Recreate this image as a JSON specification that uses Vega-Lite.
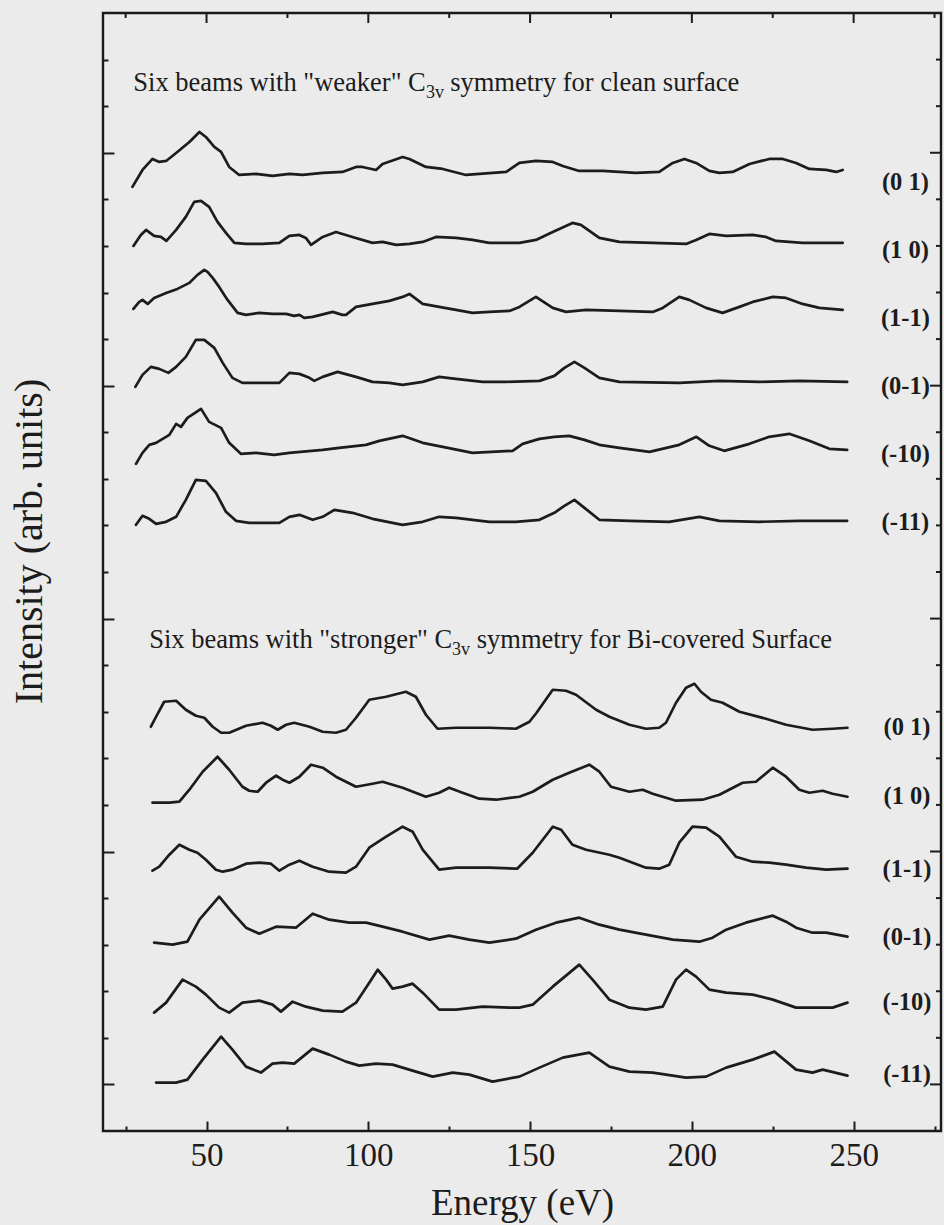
{
  "$schema": "https://vega.github.io/schema/vega-lite/v6.json",
  "width": 838,
  "height": 1118,
  "autosize": {"type": "none"},
  "padding": {"left": 103, "top": 13, "right": 3, "bottom": 94},
  "background": "#ebebeb",
  "config": {
    "view": {"stroke": "#1a1a1a", "strokeWidth": 2.4},
    "font": "Liberation Serif",
    "text": {"font": "Liberation Serif", "color": "#1a1a1a"}
  },
  "datasets": {
    "curves": [
      {"curve":"clean (0 1)","energy":27.1,"intensity":991},{"curve":"clean (0 1)","energy":30.2,"intensity":1008},{"curve":"clean (0 1)","energy":33.3,"intensity":1019},{"curve":"clean (0 1)","energy":35.4,"intensity":1016},{"curve":"clean (0 1)","energy":37.5,"intensity":1017},{"curve":"clean (0 1)","energy":40.6,"intensity":1025},{"curve":"clean (0 1)","energy":44.7,"intensity":1036},{"curve":"clean (0 1)","energy":47.8,"intensity":1046},{"curve":"clean (0 1)","energy":49.8,"intensity":1041},{"curve":"clean (0 1)","energy":52.4,"intensity":1031},{"curve":"clean (0 1)","energy":54.5,"intensity":1026},{"curve":"clean (0 1)","energy":57.0,"intensity":1011},{"curve":"clean (0 1)","energy":60.1,"intensity":1003},{"curve":"clean (0 1)","energy":65.3,"intensity":1004},{"curve":"clean (0 1)","energy":70.4,"intensity":1002},{"curve":"clean (0 1)","energy":75.6,"intensity":1004},{"curve":"clean (0 1)","energy":79.7,"intensity":1003},{"curve":"clean (0 1)","energy":85.9,"intensity":1005},{"curve":"clean (0 1)","energy":92.0,"intensity":1006},{"curve":"clean (0 1)","energy":96.2,"intensity":1011},{"curve":"clean (0 1)","energy":98.2,"intensity":1011},{"curve":"clean (0 1)","energy":102.4,"intensity":1008},{"curve":"clean (0 1)","energy":104.4,"intensity":1014},{"curve":"clean (0 1)","energy":110.6,"intensity":1021},{"curve":"clean (0 1)","energy":112.7,"intensity":1019},{"curve":"clean (0 1)","energy":117.8,"intensity":1011},{"curve":"clean (0 1)","energy":123.0,"intensity":1009},{"curve":"clean (0 1)","energy":130.2,"intensity":1003},{"curve":"clean (0 1)","energy":142.6,"intensity":1006},{"curve":"clean (0 1)","energy":146.7,"intensity":1015},{"curve":"clean (0 1)","energy":151.8,"intensity":1017},{"curve":"clean (0 1)","energy":157.0,"intensity":1016},{"curve":"clean (0 1)","energy":160.1,"intensity":1012},{"curve":"clean (0 1)","energy":165.2,"intensity":1007},{"curve":"clean (0 1)","energy":172.4,"intensity":1007},{"curve":"clean (0 1)","energy":182.7,"intensity":1005},{"curve":"clean (0 1)","energy":189.9,"intensity":1006},{"curve":"clean (0 1)","energy":194.1,"intensity":1015},{"curve":"clean (0 1)","energy":197.7,"intensity":1019},{"curve":"clean (0 1)","energy":201.3,"intensity":1015},{"curve":"clean (0 1)","energy":205.4,"intensity":1007},{"curve":"clean (0 1)","energy":208.5,"intensity":1005},{"curve":"clean (0 1)","energy":212.6,"intensity":1006},{"curve":"clean (0 1)","energy":217.8,"intensity":1014},{"curve":"clean (0 1)","energy":223.9,"intensity":1019},{"curve":"clean (0 1)","energy":228.1,"intensity":1019},{"curve":"clean (0 1)","energy":232.2,"intensity":1015},{"curve":"clean (0 1)","energy":236.3,"intensity":1009},{"curve":"clean (0 1)","energy":241.5,"intensity":1008},{"curve":"clean (0 1)","energy":244.6,"intensity":1006},{"curve":"clean (0 1)","energy":246.6,"intensity":1008},

      {"curve":"clean (1 0)","energy":27.4,"intensity":932},{"curve":"clean (1 0)","energy":29.7,"intensity":943},{"curve":"clean (1 0)","energy":31.3,"intensity":948},{"curve":"clean (1 0)","energy":33.8,"intensity":942},{"curve":"clean (1 0)","energy":35.9,"intensity":941},{"curve":"clean (1 0)","energy":37.6,"intensity":937},{"curve":"clean (1 0)","energy":40.6,"intensity":948},{"curve":"clean (1 0)","energy":43.6,"intensity":961},{"curve":"clean (1 0)","energy":46.2,"intensity":976},{"curve":"clean (1 0)","energy":48.3,"intensity":977},{"curve":"clean (1 0)","energy":50.8,"intensity":971},{"curve":"clean (1 0)","energy":53.4,"intensity":956},{"curve":"clean (1 0)","energy":56.0,"intensity":945},{"curve":"clean (1 0)","energy":58.6,"intensity":935},{"curve":"clean (1 0)","energy":62.2,"intensity":934},{"curve":"clean (1 0)","energy":67.3,"intensity":934},{"curve":"clean (1 0)","energy":72.5,"intensity":935},{"curve":"clean (1 0)","energy":75.6,"intensity":942},{"curve":"clean (1 0)","energy":78.7,"intensity":943},{"curve":"clean (1 0)","energy":80.7,"intensity":940},{"curve":"clean (1 0)","energy":82.3,"intensity":933},{"curve":"clean (1 0)","energy":85.9,"intensity":941},{"curve":"clean (1 0)","energy":90.0,"intensity":946},{"curve":"clean (1 0)","energy":95.1,"intensity":941},{"curve":"clean (1 0)","energy":101.3,"intensity":935},{"curve":"clean (1 0)","energy":104.4,"intensity":936},{"curve":"clean (1 0)","energy":108.6,"intensity":933},{"curve":"clean (1 0)","energy":112.7,"intensity":934},{"curve":"clean (1 0)","energy":116.8,"intensity":936},{"curve":"clean (1 0)","energy":120.9,"intensity":941},{"curve":"clean (1 0)","energy":127.1,"intensity":940},{"curve":"clean (1 0)","energy":132.2,"intensity":938},{"curve":"clean (1 0)","energy":137.4,"intensity":935},{"curve":"clean (1 0)","energy":143.6,"intensity":935},{"curve":"clean (1 0)","energy":146.7,"intensity":935},{"curve":"clean (1 0)","energy":151.8,"intensity":938},{"curve":"clean (1 0)","energy":157.0,"intensity":946},{"curve":"clean (1 0)","energy":163.1,"intensity":955},{"curve":"clean (1 0)","energy":165.7,"intensity":953},{"curve":"clean (1 0)","energy":171.4,"intensity":940},{"curve":"clean (1 0)","energy":177.6,"intensity":936},{"curve":"clean (1 0)","energy":187.9,"intensity":935},{"curve":"clean (1 0)","energy":198.2,"intensity":934},{"curve":"clean (1 0)","energy":201.3,"intensity":938},{"curve":"clean (1 0)","energy":205.4,"intensity":944},{"curve":"clean (1 0)","energy":210.6,"intensity":942},{"curve":"clean (1 0)","energy":218.8,"intensity":943},{"curve":"clean (1 0)","energy":222.9,"intensity":941},{"curve":"clean (1 0)","energy":226.0,"intensity":937},{"curve":"clean (1 0)","energy":234.2,"intensity":935},{"curve":"clean (1 0)","energy":246.6,"intensity":935},

      {"curve":"clean (1-1)","energy":27.4,"intensity":869},{"curve":"clean (1-1)","energy":29.2,"intensity":876},{"curve":"clean (1-1)","energy":30.2,"intensity":878},{"curve":"clean (1-1)","energy":31.8,"intensity":874},{"curve":"clean (1-1)","energy":33.8,"intensity":880},{"curve":"clean (1-1)","energy":37.5,"intensity":885},{"curve":"clean (1-1)","energy":41.0,"intensity":889},{"curve":"clean (1-1)","energy":44.7,"intensity":895},{"curve":"clean (1-1)","energy":47.2,"intensity":903},{"curve":"clean (1-1)","energy":49.3,"intensity":908},{"curve":"clean (1-1)","energy":50.3,"intensity":906},{"curve":"clean (1-1)","energy":51.9,"intensity":900},{"curve":"clean (1-1)","energy":53.9,"intensity":891},{"curve":"clean (1-1)","energy":56.5,"intensity":878},{"curve":"clean (1-1)","energy":59.6,"intensity":865},{"curve":"clean (1-1)","energy":62.2,"intensity":863},{"curve":"clean (1-1)","energy":66.3,"intensity":865},{"curve":"clean (1-1)","energy":70.4,"intensity":864},{"curve":"clean (1-1)","energy":74.6,"intensity":864},{"curve":"clean (1-1)","energy":77.1,"intensity":862},{"curve":"clean (1-1)","energy":78.7,"intensity":863},{"curve":"clean (1-1)","energy":80.2,"intensity":860},{"curve":"clean (1-1)","energy":82.8,"intensity":861},{"curve":"clean (1-1)","energy":89.0,"intensity":866},{"curve":"clean (1-1)","energy":92.0,"intensity":863},{"curve":"clean (1-1)","energy":93.1,"intensity":863},{"curve":"clean (1-1)","energy":96.2,"intensity":871},{"curve":"clean (1-1)","energy":101.3,"intensity":874},{"curve":"clean (1-1)","energy":106.5,"intensity":877},{"curve":"clean (1-1)","energy":110.6,"intensity":881},{"curve":"clean (1-1)","energy":112.7,"intensity":884},{"curve":"clean (1-1)","energy":116.8,"intensity":874},{"curve":"clean (1-1)","energy":121.9,"intensity":871},{"curve":"clean (1-1)","energy":127.1,"intensity":868},{"curve":"clean (1-1)","energy":132.2,"intensity":865},{"curve":"clean (1-1)","energy":137.4,"intensity":866},{"curve":"clean (1-1)","energy":143.6,"intensity":867},{"curve":"clean (1-1)","energy":146.7,"intensity":871},{"curve":"clean (1-1)","energy":151.8,"intensity":881},{"curve":"clean (1-1)","energy":157.0,"intensity":870},{"curve":"clean (1-1)","energy":161.1,"intensity":866},{"curve":"clean (1-1)","energy":167.3,"intensity":868},{"curve":"clean (1-1)","energy":177.6,"intensity":867},{"curve":"clean (1-1)","energy":187.9,"intensity":866},{"curve":"clean (1-1)","energy":191.0,"intensity":870},{"curve":"clean (1-1)","energy":196.1,"intensity":881},{"curve":"clean (1-1)","energy":199.2,"intensity":878},{"curve":"clean (1-1)","energy":204.4,"intensity":870},{"curve":"clean (1-1)","energy":209.5,"intensity":865},{"curve":"clean (1-1)","energy":214.7,"intensity":871},{"curve":"clean (1-1)","energy":218.8,"intensity":876},{"curve":"clean (1-1)","energy":225.0,"intensity":881},{"curve":"clean (1-1)","energy":229.1,"intensity":880},{"curve":"clean (1-1)","energy":234.2,"intensity":874},{"curve":"clean (1-1)","energy":239.4,"intensity":870},{"curve":"clean (1-1)","energy":246.6,"intensity":868},

      {"curve":"clean (0-1)","energy":28.0,"intensity":791},{"curve":"clean (0-1)","energy":30.2,"intensity":803},{"curve":"clean (0-1)","energy":32.8,"intensity":811},{"curve":"clean (0-1)","energy":35.4,"intensity":809},{"curve":"clean (0-1)","energy":38.2,"intensity":805},{"curve":"clean (0-1)","energy":40.6,"intensity":811},{"curve":"clean (0-1)","energy":43.6,"intensity":821},{"curve":"clean (0-1)","energy":46.7,"intensity":838},{"curve":"clean (0-1)","energy":49.3,"intensity":838},{"curve":"clean (0-1)","energy":52.4,"intensity":830},{"curve":"clean (0-1)","energy":55.0,"intensity":815},{"curve":"clean (0-1)","energy":58.0,"intensity":800},{"curve":"clean (0-1)","energy":61.1,"intensity":795},{"curve":"clean (0-1)","energy":67.3,"intensity":795},{"curve":"clean (0-1)","energy":72.5,"intensity":795},{"curve":"clean (0-1)","energy":75.6,"intensity":805},{"curve":"clean (0-1)","energy":78.7,"intensity":804},{"curve":"clean (0-1)","energy":81.8,"intensity":800},{"curve":"clean (0-1)","energy":83.3,"intensity":797},{"curve":"clean (0-1)","energy":85.9,"intensity":801},{"curve":"clean (0-1)","energy":90.5,"intensity":806},{"curve":"clean (0-1)","energy":96.2,"intensity":801},{"curve":"clean (0-1)","energy":101.3,"intensity":796},{"curve":"clean (0-1)","energy":106.5,"intensity":795},{"curve":"clean (0-1)","energy":110.6,"intensity":793},{"curve":"clean (0-1)","energy":116.8,"intensity":796},{"curve":"clean (0-1)","energy":121.9,"intensity":801},{"curve":"clean (0-1)","energy":127.1,"intensity":799},{"curve":"clean (0-1)","energy":135.3,"intensity":796},{"curve":"clean (0-1)","energy":142.6,"intensity":796},{"curve":"clean (0-1)","energy":152.9,"intensity":797},{"curve":"clean (0-1)","energy":157.5,"intensity":802},{"curve":"clean (0-1)","energy":160.6,"intensity":810},{"curve":"clean (0-1)","energy":163.7,"intensity":816},{"curve":"clean (0-1)","energy":166.8,"intensity":810},{"curve":"clean (0-1)","energy":171.4,"intensity":800},{"curve":"clean (0-1)","energy":177.6,"intensity":796},{"curve":"clean (0-1)","energy":196.1,"intensity":795},{"curve":"clean (0-1)","energy":208.5,"intensity":797},{"curve":"clean (0-1)","energy":220.9,"intensity":796},{"curve":"clean (0-1)","energy":233.2,"intensity":797},{"curve":"clean (0-1)","energy":248.0,"intensity":796},

      {"curve":"clean (-10)","energy":28.2,"intensity":714},{"curve":"clean (-10)","energy":30.2,"intensity":725},{"curve":"clean (-10)","energy":32.3,"intensity":733},{"curve":"clean (-10)","energy":34.4,"intensity":735},{"curve":"clean (-10)","energy":38.5,"intensity":743},{"curve":"clean (-10)","energy":40.6,"intensity":754},{"curve":"clean (-10)","energy":42.1,"intensity":751},{"curve":"clean (-10)","energy":44.1,"intensity":760},{"curve":"clean (-10)","energy":48.3,"intensity":769},{"curve":"clean (-10)","energy":50.8,"intensity":756},{"curve":"clean (-10)","energy":54.5,"intensity":750},{"curve":"clean (-10)","energy":57.0,"intensity":735},{"curve":"clean (-10)","energy":60.6,"intensity":724},{"curve":"clean (-10)","energy":65.3,"intensity":725},{"curve":"clean (-10)","energy":70.9,"intensity":723},{"curve":"clean (-10)","energy":75.6,"intensity":725},{"curve":"clean (-10)","energy":85.9,"intensity":728},{"curve":"clean (-10)","energy":91.0,"intensity":730},{"curve":"clean (-10)","energy":99.3,"intensity":733},{"curve":"clean (-10)","energy":103.4,"intensity":737},{"curve":"clean (-10)","energy":110.6,"intensity":742},{"curve":"clean (-10)","energy":116.8,"intensity":735},{"curve":"clean (-10)","energy":123.0,"intensity":731},{"curve":"clean (-10)","energy":132.2,"intensity":725},{"curve":"clean (-10)","energy":144.6,"intensity":727},{"curve":"clean (-10)","energy":147.7,"intensity":734},{"curve":"clean (-10)","energy":152.9,"intensity":739},{"curve":"clean (-10)","energy":157.5,"intensity":741},{"curve":"clean (-10)","energy":162.1,"intensity":742},{"curve":"clean (-10)","energy":166.8,"intensity":738},{"curve":"clean (-10)","energy":171.4,"intensity":733},{"curve":"clean (-10)","energy":177.6,"intensity":730},{"curve":"clean (-10)","energy":186.9,"intensity":726},{"curve":"clean (-10)","energy":196.1,"intensity":733},{"curve":"clean (-10)","energy":201.4,"intensity":741},{"curve":"clean (-10)","energy":205.4,"intensity":732},{"curve":"clean (-10)","energy":210.0,"intensity":727},{"curve":"clean (-10)","energy":217.8,"intensity":734},{"curve":"clean (-10)","energy":223.9,"intensity":741},{"curve":"clean (-10)","energy":230.1,"intensity":744},{"curve":"clean (-10)","energy":236.3,"intensity":737},{"curve":"clean (-10)","energy":242.5,"intensity":729},{"curve":"clean (-10)","energy":248.0,"intensity":728},

      {"curve":"clean (-11)","energy":28.2,"intensity":653},{"curve":"clean (-11)","energy":30.2,"intensity":662},{"curve":"clean (-11)","energy":32.3,"intensity":659},{"curve":"clean (-11)","energy":34.4,"intensity":654},{"curve":"clean (-11)","energy":37.5,"intensity":656},{"curve":"clean (-11)","energy":40.6,"intensity":661},{"curve":"clean (-11)","energy":43.6,"intensity":678},{"curve":"clean (-11)","energy":46.7,"intensity":698},{"curve":"clean (-11)","energy":49.8,"intensity":697},{"curve":"clean (-11)","energy":52.9,"intensity":685},{"curve":"clean (-11)","energy":56.0,"intensity":666},{"curve":"clean (-11)","energy":59.1,"intensity":657},{"curve":"clean (-11)","energy":63.2,"intensity":655},{"curve":"clean (-11)","energy":72.5,"intensity":655},{"curve":"clean (-11)","energy":75.6,"intensity":661},{"curve":"clean (-11)","energy":78.7,"intensity":663},{"curve":"clean (-11)","energy":82.8,"intensity":658},{"curve":"clean (-11)","energy":85.9,"intensity":661},{"curve":"clean (-11)","energy":89.5,"intensity":668},{"curve":"clean (-11)","energy":95.1,"intensity":665},{"curve":"clean (-11)","energy":101.3,"intensity":659},{"curve":"clean (-11)","energy":110.6,"intensity":653},{"curve":"clean (-11)","energy":116.8,"intensity":656},{"curve":"clean (-11)","energy":121.9,"intensity":661},{"curve":"clean (-11)","energy":127.1,"intensity":660},{"curve":"clean (-11)","energy":137.4,"intensity":656},{"curve":"clean (-11)","energy":145.6,"intensity":656},{"curve":"clean (-11)","energy":152.9,"intensity":658},{"curve":"clean (-11)","energy":157.5,"intensity":665},{"curve":"clean (-11)","energy":160.6,"intensity":672},{"curve":"clean (-11)","energy":163.7,"intensity":678},{"curve":"clean (-11)","energy":166.8,"intensity":670},{"curve":"clean (-11)","energy":171.4,"intensity":658},{"curve":"clean (-11)","energy":180.7,"intensity":657},{"curve":"clean (-11)","energy":193.0,"intensity":656},{"curve":"clean (-11)","energy":202.3,"intensity":661},{"curve":"clean (-11)","energy":208.5,"intensity":657},{"curve":"clean (-11)","energy":220.9,"intensity":656},{"curve":"clean (-11)","energy":233.2,"intensity":657},{"curve":"clean (-11)","energy":248.0,"intensity":657},

      {"curve":"Bi (0 1)","energy":32.8,"intensity":451},{"curve":"Bi (0 1)","energy":34.4,"intensity":461},{"curve":"Bi (0 1)","energy":36.9,"intensity":476},{"curve":"Bi (0 1)","energy":40.6,"intensity":477},{"curve":"Bi (0 1)","energy":43.6,"intensity":468},{"curve":"Bi (0 1)","energy":46.7,"intensity":462},{"curve":"Bi (0 1)","energy":49.3,"intensity":460},{"curve":"Bi (0 1)","energy":51.9,"intensity":451},{"curve":"Bi (0 1)","energy":54.5,"intensity":445},{"curve":"Bi (0 1)","energy":57.0,"intensity":445},{"curve":"Bi (0 1)","energy":62.2,"intensity":452},{"curve":"Bi (0 1)","energy":67.3,"intensity":455},{"curve":"Bi (0 1)","energy":69.9,"intensity":452},{"curve":"Bi (0 1)","energy":72.0,"intensity":448},{"curve":"Bi (0 1)","energy":74.6,"intensity":453},{"curve":"Bi (0 1)","energy":77.1,"intensity":455},{"curve":"Bi (0 1)","energy":81.8,"intensity":451},{"curve":"Bi (0 1)","energy":85.9,"intensity":446},{"curve":"Bi (0 1)","energy":90.0,"intensity":445},{"curve":"Bi (0 1)","energy":93.1,"intensity":448},{"curve":"Bi (0 1)","energy":96.2,"intensity":460},{"curve":"Bi (0 1)","energy":100.3,"intensity":478},{"curve":"Bi (0 1)","energy":105.5,"intensity":481},{"curve":"Bi (0 1)","energy":111.6,"intensity":486},{"curve":"Bi (0 1)","energy":114.7,"intensity":481},{"curve":"Bi (0 1)","energy":117.8,"intensity":463},{"curve":"Bi (0 1)","energy":121.4,"intensity":449},{"curve":"Bi (0 1)","energy":127.1,"intensity":450},{"curve":"Bi (0 1)","energy":137.4,"intensity":450},{"curve":"Bi (0 1)","energy":145.6,"intensity":449},{"curve":"Bi (0 1)","energy":149.8,"intensity":456},{"curve":"Bi (0 1)","energy":152.0,"intensity":465},{"curve":"Bi (0 1)","energy":157.0,"intensity":488},{"curve":"Bi (0 1)","energy":161.1,"intensity":487},{"curve":"Bi (0 1)","energy":164.2,"intensity":483},{"curve":"Bi (0 1)","energy":170.4,"intensity":468},{"curve":"Bi (0 1)","energy":174.5,"intensity":461},{"curve":"Bi (0 1)","energy":180.7,"intensity":453},{"curve":"Bi (0 1)","energy":185.8,"intensity":449},{"curve":"Bi (0 1)","energy":189.9,"intensity":450},{"curve":"Bi (0 1)","energy":192.0,"intensity":455},{"curve":"Bi (0 1)","energy":195.1,"intensity":475},{"curve":"Bi (0 1)","energy":198.2,"intensity":490},{"curve":"Bi (0 1)","energy":200.8,"intensity":494},{"curve":"Bi (0 1)","energy":202.8,"intensity":486},{"curve":"Bi (0 1)","energy":205.9,"intensity":478},{"curve":"Bi (0 1)","energy":209.5,"intensity":475},{"curve":"Bi (0 1)","energy":214.7,"intensity":466},{"curve":"Bi (0 1)","energy":222.9,"intensity":459},{"curve":"Bi (0 1)","energy":229.1,"intensity":453},{"curve":"Bi (0 1)","energy":237.3,"intensity":448},{"curve":"Bi (0 1)","energy":243.5,"intensity":449},{"curve":"Bi (0 1)","energy":248.1,"intensity":450},

      {"curve":"Bi (1 0)","energy":33.3,"intensity":375},{"curve":"Bi (1 0)","energy":38.5,"intensity":375},{"curve":"Bi (1 0)","energy":41.6,"intensity":376},{"curve":"Bi (1 0)","energy":44.7,"intensity":388},{"curve":"Bi (1 0)","energy":48.8,"intensity":406},{"curve":"Bi (1 0)","energy":53.4,"intensity":421},{"curve":"Bi (1 0)","energy":57.0,"intensity":408},{"curve":"Bi (1 0)","energy":61.1,"intensity":391},{"curve":"Bi (1 0)","energy":63.2,"intensity":387},{"curve":"Bi (1 0)","energy":65.8,"intensity":386},{"curve":"Bi (1 0)","energy":68.4,"intensity":395},{"curve":"Bi (1 0)","energy":71.5,"intensity":402},{"curve":"Bi (1 0)","energy":73.5,"intensity":398},{"curve":"Bi (1 0)","energy":75.6,"intensity":395},{"curve":"Bi (1 0)","energy":78.7,"intensity":401},{"curve":"Bi (1 0)","energy":82.3,"intensity":413},{"curve":"Bi (1 0)","energy":85.9,"intensity":410},{"curve":"Bi (1 0)","energy":90.0,"intensity":401},{"curve":"Bi (1 0)","energy":96.2,"intensity":391},{"curve":"Bi (1 0)","energy":101.3,"intensity":394},{"curve":"Bi (1 0)","energy":104.4,"intensity":396},{"curve":"Bi (1 0)","energy":110.6,"intensity":390},{"curve":"Bi (1 0)","energy":117.8,"intensity":381},{"curve":"Bi (1 0)","energy":121.9,"intensity":385},{"curve":"Bi (1 0)","energy":125.0,"intensity":390},{"curve":"Bi (1 0)","energy":129.1,"intensity":385},{"curve":"Bi (1 0)","energy":134.3,"intensity":379},{"curve":"Bi (1 0)","energy":139.5,"intensity":378},{"curve":"Bi (1 0)","energy":146.7,"intensity":381},{"curve":"Bi (1 0)","energy":150.8,"intensity":386},{"curve":"Bi (1 0)","energy":157.0,"intensity":398},{"curve":"Bi (1 0)","energy":162.1,"intensity":405},{"curve":"Bi (1 0)","energy":168.3,"intensity":413},{"curve":"Bi (1 0)","energy":171.4,"intensity":406},{"curve":"Bi (1 0)","energy":175.0,"intensity":391},{"curve":"Bi (1 0)","energy":180.7,"intensity":386},{"curve":"Bi (1 0)","energy":184.8,"intensity":388},{"curve":"Bi (1 0)","energy":187.9,"intensity":384},{"curve":"Bi (1 0)","energy":195.1,"intensity":377},{"curve":"Bi (1 0)","energy":203.3,"intensity":378},{"curve":"Bi (1 0)","energy":208.5,"intensity":383},{"curve":"Bi (1 0)","energy":215.7,"intensity":395},{"curve":"Bi (1 0)","energy":219.8,"intensity":396},{"curve":"Bi (1 0)","energy":225.0,"intensity":410},{"curve":"Bi (1 0)","energy":229.1,"intensity":401},{"curve":"Bi (1 0)","energy":233.2,"intensity":388},{"curve":"Bi (1 0)","energy":236.3,"intensity":385},{"curve":"Bi (1 0)","energy":240.4,"intensity":387},{"curve":"Bi (1 0)","energy":243.5,"intensity":384},{"curve":"Bi (1 0)","energy":248.1,"intensity":381},

      {"curve":"Bi (1-1)","energy":33.3,"intensity":307},{"curve":"Bi (1-1)","energy":35.4,"intensity":311},{"curve":"Bi (1-1)","energy":38.5,"intensity":323},{"curve":"Bi (1-1)","energy":41.6,"intensity":333},{"curve":"Bi (1-1)","energy":44.7,"intensity":328},{"curve":"Bi (1-1)","energy":47.2,"intensity":325},{"curve":"Bi (1-1)","energy":49.8,"intensity":318},{"curve":"Bi (1-1)","energy":52.9,"intensity":308},{"curve":"Bi (1-1)","energy":55.0,"intensity":306},{"curve":"Bi (1-1)","energy":58.0,"intensity":308},{"curve":"Bi (1-1)","energy":62.2,"intensity":314},{"curve":"Bi (1-1)","energy":66.3,"intensity":315},{"curve":"Bi (1-1)","energy":69.9,"intensity":314},{"curve":"Bi (1-1)","energy":72.5,"intensity":307},{"curve":"Bi (1-1)","energy":75.6,"intensity":313},{"curve":"Bi (1-1)","energy":78.7,"intensity":317},{"curve":"Bi (1-1)","energy":82.8,"intensity":311},{"curve":"Bi (1-1)","energy":87.9,"intensity":306},{"curve":"Bi (1-1)","energy":93.1,"intensity":305},{"curve":"Bi (1-1)","energy":96.2,"intensity":311},{"curve":"Bi (1-1)","energy":100.3,"intensity":330},{"curve":"Bi (1-1)","energy":105.5,"intensity":341},{"curve":"Bi (1-1)","energy":110.6,"intensity":351},{"curve":"Bi (1-1)","energy":113.7,"intensity":346},{"curve":"Bi (1-1)","energy":116.8,"intensity":328},{"curve":"Bi (1-1)","energy":121.9,"intensity":308},{"curve":"Bi (1-1)","energy":127.1,"intensity":310},{"curve":"Bi (1-1)","energy":137.4,"intensity":310},{"curve":"Bi (1-1)","energy":146.0,"intensity":309},{"curve":"Bi (1-1)","energy":150.8,"intensity":325},{"curve":"Bi (1-1)","energy":157.0,"intensity":351},{"curve":"Bi (1-1)","energy":159.6,"intensity":348},{"curve":"Bi (1-1)","energy":163.1,"intensity":333},{"curve":"Bi (1-1)","energy":167.3,"intensity":328},{"curve":"Bi (1-1)","energy":174.5,"intensity":323},{"curve":"Bi (1-1)","energy":177.6,"intensity":320},{"curve":"Bi (1-1)","energy":185.8,"intensity":310},{"curve":"Bi (1-1)","energy":189.9,"intensity":309},{"curve":"Bi (1-1)","energy":193.0,"intensity":313},{"curve":"Bi (1-1)","energy":196.1,"intensity":335},{"curve":"Bi (1-1)","energy":200.2,"intensity":351},{"curve":"Bi (1-1)","energy":204.4,"intensity":350},{"curve":"Bi (1-1)","energy":208.5,"intensity":341},{"curve":"Bi (1-1)","energy":213.6,"intensity":321},{"curve":"Bi (1-1)","energy":218.8,"intensity":316},{"curve":"Bi (1-1)","energy":223.9,"intensity":315},{"curve":"Bi (1-1)","energy":229.1,"intensity":313},{"curve":"Bi (1-1)","energy":235.3,"intensity":310},{"curve":"Bi (1-1)","energy":241.5,"intensity":308},{"curve":"Bi (1-1)","energy":248.1,"intensity":309},

      {"curve":"Bi (0-1)","energy":33.8,"intensity":235},{"curve":"Bi (0-1)","energy":39.5,"intensity":233},{"curve":"Bi (0-1)","energy":44.1,"intensity":236},{"curve":"Bi (0-1)","energy":47.8,"intensity":258},{"curve":"Bi (0-1)","energy":53.9,"intensity":281},{"curve":"Bi (0-1)","energy":58.0,"intensity":265},{"curve":"Bi (0-1)","energy":62.2,"intensity":250},{"curve":"Bi (0-1)","energy":66.3,"intensity":244},{"curve":"Bi (0-1)","energy":71.5,"intensity":251},{"curve":"Bi (0-1)","energy":77.6,"intensity":250},{"curve":"Bi (0-1)","energy":82.8,"intensity":264},{"curve":"Bi (0-1)","energy":87.9,"intensity":258},{"curve":"Bi (0-1)","energy":94.1,"intensity":255},{"curve":"Bi (0-1)","energy":99.3,"intensity":255},{"curve":"Bi (0-1)","energy":104.4,"intensity":251},{"curve":"Bi (0-1)","energy":110.6,"intensity":246},{"curve":"Bi (0-1)","energy":118.9,"intensity":238},{"curve":"Bi (0-1)","energy":125.0,"intensity":242},{"curve":"Bi (0-1)","energy":131.2,"intensity":238},{"curve":"Bi (0-1)","energy":137.4,"intensity":235},{"curve":"Bi (0-1)","energy":145.6,"intensity":239},{"curve":"Bi (0-1)","energy":151.8,"intensity":248},{"curve":"Bi (0-1)","energy":158.0,"intensity":255},{"curve":"Bi (0-1)","energy":165.2,"intensity":260},{"curve":"Bi (0-1)","energy":171.4,"intensity":253},{"curve":"Bi (0-1)","energy":177.6,"intensity":248},{"curve":"Bi (0-1)","energy":185.8,"intensity":243},{"curve":"Bi (0-1)","energy":194.1,"intensity":238},{"curve":"Bi (0-1)","energy":202.3,"intensity":236},{"curve":"Bi (0-1)","energy":206.4,"intensity":240},{"curve":"Bi (0-1)","energy":210.6,"intensity":248},{"curve":"Bi (0-1)","energy":216.7,"intensity":255},{"curve":"Bi (0-1)","energy":225.0,"intensity":262},{"curve":"Bi (0-1)","energy":229.1,"intensity":256},{"curve":"Bi (0-1)","energy":232.2,"intensity":250},{"curve":"Bi (0-1)","energy":237.3,"intensity":245},{"curve":"Bi (0-1)","energy":241.5,"intensity":245},{"curve":"Bi (0-1)","energy":248.1,"intensity":241},

      {"curve":"Bi (-10)","energy":33.8,"intensity":165},{"curve":"Bi (-10)","energy":37.5,"intensity":175},{"curve":"Bi (-10)","energy":42.6,"intensity":198},{"curve":"Bi (-10)","energy":46.7,"intensity":191},{"curve":"Bi (-10)","energy":49.8,"intensity":183},{"curve":"Bi (-10)","energy":53.9,"intensity":170},{"curve":"Bi (-10)","energy":57.0,"intensity":165},{"curve":"Bi (-10)","energy":61.1,"intensity":175},{"curve":"Bi (-10)","energy":66.3,"intensity":177},{"curve":"Bi (-10)","energy":70.4,"intensity":173},{"curve":"Bi (-10)","energy":73.0,"intensity":166},{"curve":"Bi (-10)","energy":76.6,"intensity":176},{"curve":"Bi (-10)","energy":80.7,"intensity":171},{"curve":"Bi (-10)","energy":85.9,"intensity":167},{"curve":"Bi (-10)","energy":92.0,"intensity":166},{"curve":"Bi (-10)","energy":96.2,"intensity":175},{"curve":"Bi (-10)","energy":100.3,"intensity":195},{"curve":"Bi (-10)","energy":102.9,"intensity":208},{"curve":"Bi (-10)","energy":105.5,"intensity":198},{"curve":"Bi (-10)","energy":107.5,"intensity":189},{"curve":"Bi (-10)","energy":110.6,"intensity":191},{"curve":"Bi (-10)","energy":113.7,"intensity":194},{"curve":"Bi (-10)","energy":116.8,"intensity":185},{"curve":"Bi (-10)","energy":121.9,"intensity":168},{"curve":"Bi (-10)","energy":127.1,"intensity":168},{"curve":"Bi (-10)","energy":135.3,"intensity":171},{"curve":"Bi (-10)","energy":143.6,"intensity":170},{"curve":"Bi (-10)","energy":146.7,"intensity":170},{"curve":"Bi (-10)","energy":150.8,"intensity":173},{"curve":"Bi (-10)","energy":157.0,"intensity":191},{"curve":"Bi (-10)","energy":165.2,"intensity":213},{"curve":"Bi (-10)","energy":169.3,"intensity":198},{"curve":"Bi (-10)","energy":174.5,"intensity":178},{"curve":"Bi (-10)","energy":180.7,"intensity":170},{"curve":"Bi (-10)","energy":185.8,"intensity":168},{"curve":"Bi (-10)","energy":191.0,"intensity":171},{"curve":"Bi (-10)","energy":195.1,"intensity":198},{"curve":"Bi (-10)","energy":198.2,"intensity":208},{"curve":"Bi (-10)","energy":201.3,"intensity":201},{"curve":"Bi (-10)","energy":205.4,"intensity":188},{"curve":"Bi (-10)","energy":210.6,"intensity":185},{"curve":"Bi (-10)","energy":218.8,"intensity":183},{"curve":"Bi (-10)","energy":225.0,"intensity":178},{"curve":"Bi (-10)","energy":232.2,"intensity":170},{"curve":"Bi (-10)","energy":243.5,"intensity":170},{"curve":"Bi (-10)","energy":248.1,"intensity":175},

      {"curve":"Bi (-11)","energy":34.4,"intensity":95},{"curve":"Bi (-11)","energy":40.6,"intensity":95},{"curve":"Bi (-11)","energy":44.1,"intensity":98},{"curve":"Bi (-11)","energy":48.8,"intensity":118},{"curve":"Bi (-11)","energy":54.5,"intensity":141},{"curve":"Bi (-11)","energy":58.0,"intensity":128},{"curve":"Bi (-11)","energy":62.2,"intensity":111},{"curve":"Bi (-11)","energy":66.8,"intensity":105},{"curve":"Bi (-11)","energy":70.4,"intensity":114},{"curve":"Bi (-11)","energy":73.5,"intensity":115},{"curve":"Bi (-11)","energy":77.1,"intensity":114},{"curve":"Bi (-11)","energy":82.8,"intensity":129},{"curve":"Bi (-11)","energy":87.9,"intensity":123},{"curve":"Bi (-11)","energy":93.1,"intensity":116},{"curve":"Bi (-11)","energy":97.2,"intensity":112},{"curve":"Bi (-11)","energy":102.4,"intensity":114},{"curve":"Bi (-11)","energy":107.5,"intensity":113},{"curve":"Bi (-11)","energy":114.7,"intensity":106},{"curve":"Bi (-11)","energy":119.9,"intensity":101},{"curve":"Bi (-11)","energy":126.1,"intensity":105},{"curve":"Bi (-11)","energy":131.2,"intensity":103},{"curve":"Bi (-11)","energy":138.4,"intensity":96},{"curve":"Bi (-11)","energy":146.7,"intensity":101},{"curve":"Bi (-11)","energy":152.9,"intensity":110},{"curve":"Bi (-11)","energy":160.1,"intensity":120},{"curve":"Bi (-11)","energy":168.3,"intensity":125},{"curve":"Bi (-11)","energy":174.5,"intensity":111},{"curve":"Bi (-11)","energy":180.7,"intensity":106},{"curve":"Bi (-11)","energy":187.9,"intensity":105},{"curve":"Bi (-11)","energy":198.2,"intensity":100},{"curve":"Bi (-11)","energy":204.4,"intensity":101},{"curve":"Bi (-11)","energy":210.6,"intensity":110},{"curve":"Bi (-11)","energy":218.8,"intensity":118},{"curve":"Bi (-11)","energy":225.5,"intensity":126},{"curve":"Bi (-11)","energy":232.2,"intensity":108},{"curve":"Bi (-11)","energy":237.3,"intensity":105},{"curve":"Bi (-11)","energy":240.4,"intensity":108},{"curve":"Bi (-11)","energy":248.1,"intensity":102}
    ],
    "beams": [
      {"label":"(0 1)","energy":266,"intensity":995},
      {"label":"(1 0)","energy":266,"intensity":927},
      {"label":"(1-1)","energy":266,"intensity":859},
      {"label":"(0-1)","energy":266,"intensity":791},
      {"label":"(-10)","energy":266,"intensity":723},
      {"label":"(-11)","energy":266,"intensity":655},
      {"label":"(0 1)","energy":266.5,"intensity":450},
      {"label":"(1 0)","energy":266.5,"intensity":381},
      {"label":"(1-1)","energy":266.5,"intensity":308},
      {"label":"(0-1)","energy":266.5,"intensity":240},
      {"label":"(-10)","energy":266.5,"intensity":175},
      {"label":"(-11)","energy":266.5,"intensity":103}
    ],
    "titles": [
      {"text":"Six beams with \"weaker\" C","energy":27.36,"intensity":1087},
      {"text":"symmetry for clean surface","energy":125.3,"intensity":1087},
      {"text":"Six beams with \"stronger\" C","energy":32.3,"intensity":530},
      {"text":"symmetry for Bi-covered Surface","energy":133.5,"intensity":530}
    ],
    "subscripts": [
      {"text":"3v","energy":117.8,"intensity":1087},
      {"text":"3v","energy":125.9,"intensity":530}
    ],
    "energyTicks": [
      {"energy":25},{"energy":50},{"energy":75},{"energy":100},{"energy":125},{"energy":150},{"energy":175},{"energy":200},{"energy":225},{"energy":250},{"energy":275}
    ],
    "intensityTicks": [
      {"intensity":93.2},{"intensity":139.8},{"intensity":186.4},{"intensity":233},{"intensity":279.6},{"intensity":326.2},{"intensity":372.8},{"intensity":419.4},{"intensity":466},{"intensity":512.6},{"intensity":559.2},{"intensity":605.8},{"intensity":652.4},{"intensity":699},{"intensity":745.6},{"intensity":792.2},{"intensity":838.8},{"intensity":885.4},{"intensity":932},{"intensity":978.6},{"intensity":1025.2},{"intensity":1071.8},{"intensity":1118.4}
    ]
  },
  "layer": [
    {
      "data": {"name": "curves"},
      "mark": {"type": "line", "color": "#1c1c1c", "strokeWidth": 2.7, "strokeJoin": "round", "strokeCap": "round", "interpolate": "linear"},
      "encoding": {
        "x": {
          "field": "energy", "type": "quantitative",
          "scale": {"domain": [18, 277], "nice": false, "zero": false},
          "axis": {
            "orient": "bottom",
            "values": [25, 50, 75, 100, 125, 150, 175, 200, 225, 250, 275],
            "labelExpr": "datum.value % 50 === 0 ? datum.label : ''",
            "domain": false, "grid": false,
            "tickColor": "#1c1c1c", "tickWidth": 2,
            "tickSize": {"condition": {"test": "datum.value % 50 === 0", "value": -10}, "value": -5},
            "labelFont": "Liberation Serif", "labelFontSize": 33, "labelColor": "#1c1c1c",
            "labelPadding": 18, "labelOverlap": false, "labelFlush": false,
            "title": "Energy (eV)", "titleFont": "Liberation Serif", "titleFontSize": 37,
            "titleFontWeight": "normal", "titleColor": "#1c1c1c", "titlePadding": 8
          }
        },
        "y": {
          "field": "intensity", "type": "quantitative",
          "scale": {"domain": [46.6, 1165], "nice": false, "zero": false},
          "axis": {
            "orient": "left",
            "values": [93.2, 139.8, 186.4, 233, 279.6, 326.2, 372.8, 419.4, 466, 512.6, 559.2, 605.8, 652.4, 699, 745.6, 792.2, 838.8, 885.4, 932, 978.6, 1025.2, 1071.8, 1118.4],
            "labels": false, "domain": false, "grid": false,
            "tickColor": "#1c1c1c", "tickWidth": 2,
            "tickSize": {"condition": {"test": "indexof([93.2, 326.2, 559.2, 792.2, 1025.2], datum.value) >= 0", "value": -11}, "value": -5},
            "title": "Intensity (arb. units)", "titleFont": "Liberation Serif", "titleFontSize": 40,
            "titleFontWeight": "normal", "titleColor": "#1c1c1c",
            "titleAngle": 270, "titleBaseline": "middle", "titleAlign": "center",
            "titleX": -74, "titleY": 528
          }
        },
        "detail": {"field": "curve", "type": "nominal"}
      }
    },
    {
      "data": {"name": "energyTicks"},
      "mark": {"type": "tick", "orient": "vertical", "color": "#1c1c1c", "thickness": 2, "clip": true, "opacity": 1},
      "encoding": {
        "x": {"field": "energy", "type": "quantitative", "scale": {"domain": [18, 277], "nice": false, "zero": false}, "axis": null},
        "y": {"datum": 1165, "type": "quantitative", "scale": {"domain": [46.6, 1165], "nice": false, "zero": false}, "axis": null},
        "size": {"condition": {"test": "datum.energy % 50 === 0", "value": 20}, "value": 10}
      }
    },
    {
      "data": {"name": "intensityTicks"},
      "mark": {"type": "tick", "orient": "horizontal", "color": "#1c1c1c", "thickness": 2, "clip": true, "opacity": 1},
      "encoding": {
        "x": {"datum": 277, "type": "quantitative", "scale": {"domain": [18, 277], "nice": false, "zero": false}, "axis": null},
        "y": {"field": "intensity", "type": "quantitative", "scale": {"domain": [46.6, 1165], "nice": false, "zero": false}, "axis": null},
        "size": {"condition": {"test": "indexof([93.2, 326.2, 559.2, 792.2, 1025.2], datum.intensity) >= 0", "value": 22}, "value": 10}
      }
    },
    {
      "data": {"name": "beams"},
      "mark": {"type": "text", "font": "Liberation Serif", "fontSize": 24.5, "fontWeight": "bold", "align": "center", "baseline": "middle", "color": "#1c1c1c"},
      "encoding": {
        "x": {"field": "energy", "type": "quantitative", "scale": {"domain": [18, 277], "nice": false, "zero": false}, "axis": null},
        "y": {"field": "intensity", "type": "quantitative", "scale": {"domain": [46.6, 1165], "nice": false, "zero": false}, "axis": null},
        "text": {"field": "label", "type": "nominal"}
      }
    },
    {
      "data": {"name": "titles"},
      "mark": {"type": "text", "font": "Liberation Serif", "fontSize": 26.5, "align": "left", "baseline": "alphabetic", "color": "#1c1c1c"},
      "encoding": {
        "x": {"field": "energy", "type": "quantitative", "scale": {"domain": [18, 277], "nice": false, "zero": false}, "axis": null},
        "y": {"field": "intensity", "type": "quantitative", "scale": {"domain": [46.6, 1165], "nice": false, "zero": false}, "axis": null},
        "text": {"field": "text", "type": "nominal"}
      }
    },
    {
      "data": {"name": "subscripts"},
      "mark": {"type": "text", "font": "Liberation Serif", "fontSize": 18, "align": "left", "baseline": "alphabetic", "dy": 7, "color": "#1c1c1c"},
      "encoding": {
        "x": {"field": "energy", "type": "quantitative", "scale": {"domain": [18, 277], "nice": false, "zero": false}, "axis": null},
        "y": {"field": "intensity", "type": "quantitative", "scale": {"domain": [46.6, 1165], "nice": false, "zero": false}, "axis": null},
        "text": {"field": "text", "type": "nominal"}
      }
    }
  ],
  "resolve": {"axis": {"x": "independent", "y": "independent"}}
}
